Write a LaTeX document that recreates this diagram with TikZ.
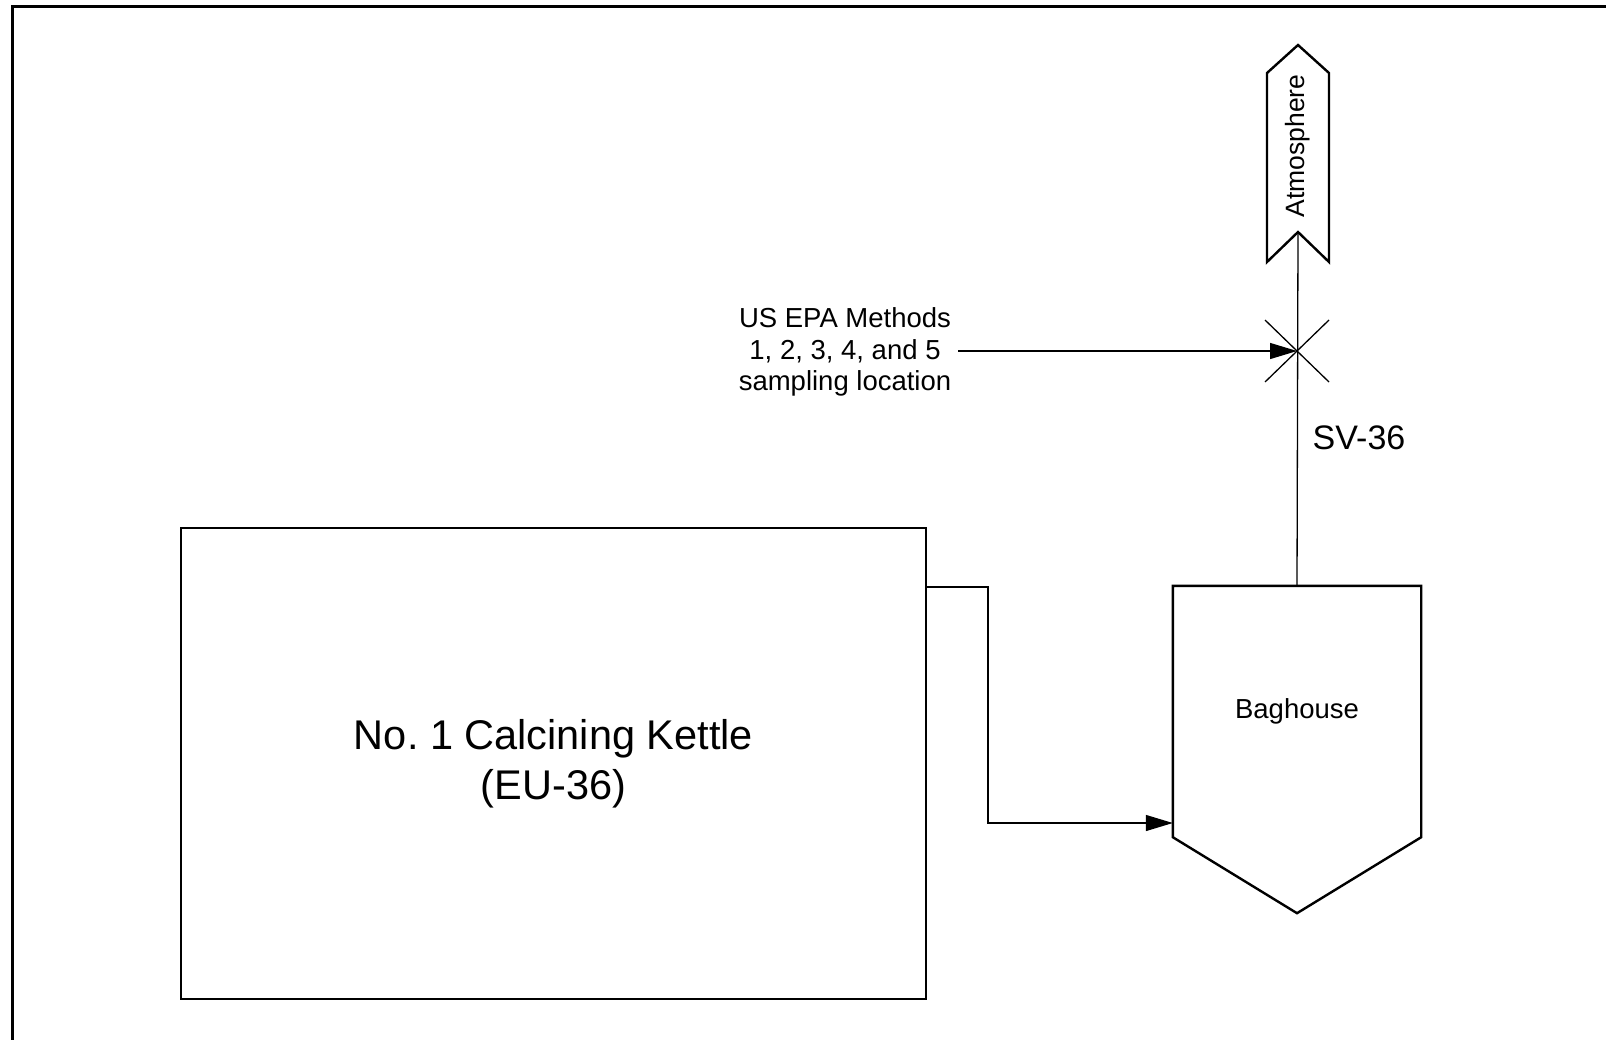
\documentclass[tikz,border=0pt]{standalone}
\usepackage{fontspec}
\setmainfont{Liberation Sans}
\usetikzlibrary{arrows.meta,calc}
\frenchspacing
\tikzset{
  shapeline/.style={line width=2.4pt, line join=miter},
  flow/.style={line width=1.3pt},
  flowarrow/.style={flow, -{Triangle[length=27pt,width=16pt]}},
}
\begin{document}
\begin{tikzpicture}[x=1pt,y=-1pt]
\useasboundingbox (0,0) rectangle (1606,1039);
% frame
\draw[line width=3pt] (12,1045) -- (12,6) -- (1612,6);
% kettle
\node[shapeline, draw, minimum width=745pt, minimum height=471pt, inner sep=0pt, align=center,
      font=\fontsize{41.5}{50}\selectfont] (kettle) at (553.5,763.5) {No.\ 1 Calcining Kettle\\(EU-36)};
% baghouse
\node[minimum width=248pt, minimum height=251pt, inner sep=0pt, font=\fontsize{27.5}{30}\selectfont] (bag) at (1297,711.5) {Baghouse};
\draw[shapeline] (bag.south west) -- (bag.north west) -- (bag.north east) -- (bag.south east) -- ($(bag.south)+(0,76)$) -- cycle;
% atmosphere
\coordinate (atmtip) at (1298,45);
\coordinate (atmnotch) at (1298,232);
\draw[shapeline] (1267,73) -- (atmtip) -- (1329,73) -- (1329,262) -- (atmnotch) -- (1267,262) -- cycle;
\node[rotate=90, font=\fontsize{26.5}{30}\selectfont, inner sep=0pt] (atm) at (1298,146) {Atmosphere};
% stack line
\draw[flow] (bag.north) -- (atmnotch);
% sampling point X
\coordinate (sp) at (1297,351);
\draw[flow] ($(sp)+(-32,-31)$) -- ($(sp)+(32,31)$);
\draw[flow] ($(sp)+(-32,31)$) -- ($(sp)+(32,-31)$);
% note
\node[align=center, font=\fontsize{27.5}{31.5}\selectfont, inner sep=0pt] (note) at (845,352) {US EPA Methods\\1, 2, 3, 4, and 5\\sampling location};
\coordinate (notestart) at (958,351);
\draw[flowarrow] (notestart) -- (sp);
% SV-36
\node[font=\fontsize{34}{38}\selectfont, inner sep=0pt] (sv) at (1359,438) {SV-36};
% kettle to baghouse
\coordinate (kout) at (kettle.east |- 0,587);
\draw[flowarrow] (kout) -- (988,587) -- (988,823) -- (bag.west |- 0,823);
\end{tikzpicture}
\end{document}
